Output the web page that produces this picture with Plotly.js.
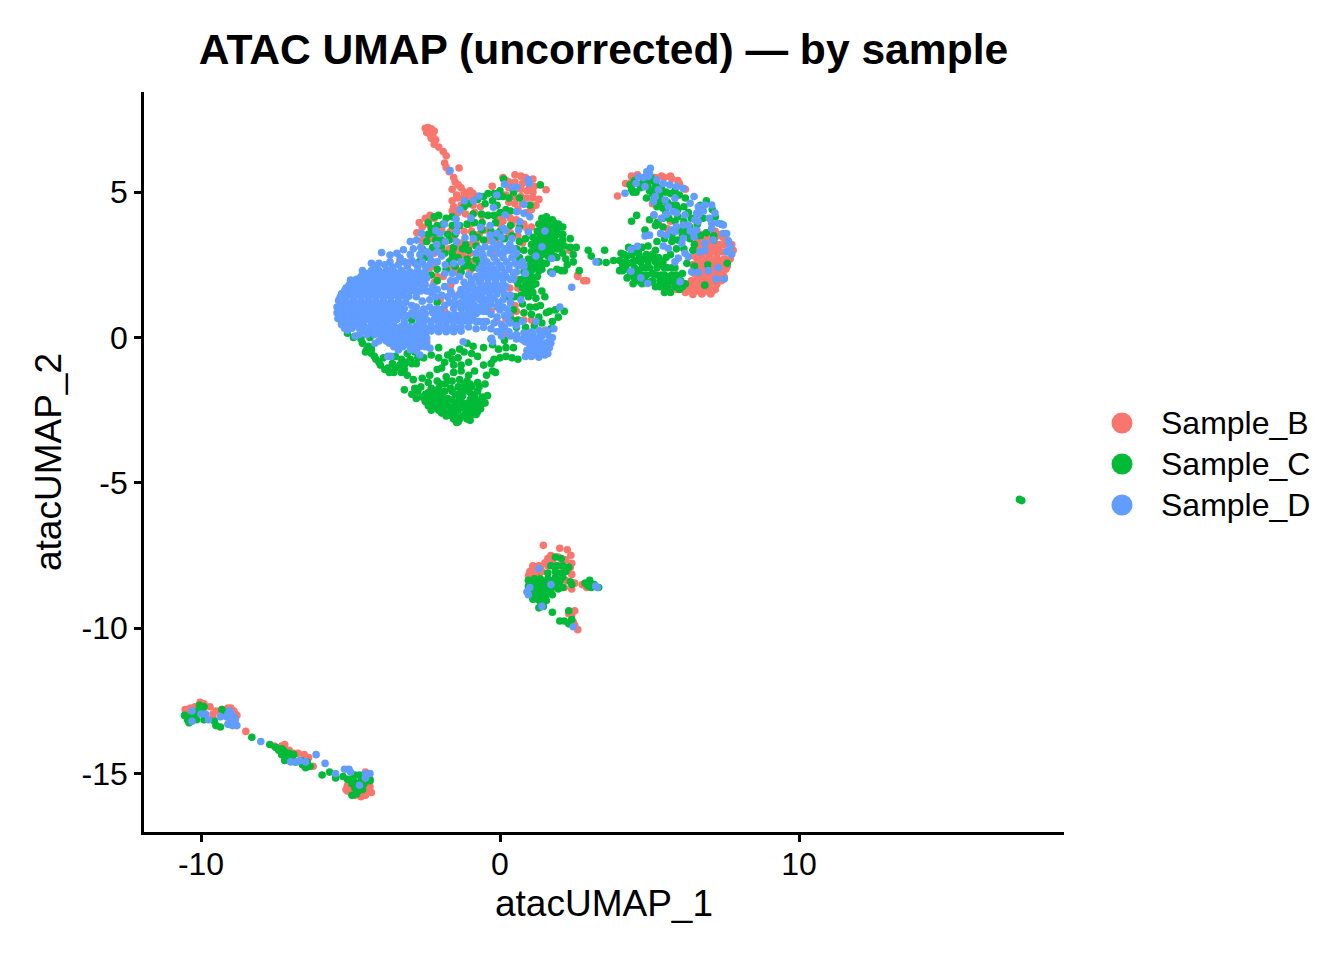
<!DOCTYPE html>
<html><head><meta charset="utf-8">
<script src="https://cdn.plot.ly/plotly-3.0.1.min.js"></script>
<style>html,body{margin:0;padding:0;background:#fff}</style></head>
<body><div id="chart" style="width:1344px;height:960px"></div>
<script>
const sampleNames = ["Sample_B","Sample_C","Sample_D"];
const sampleColors = ["#F8766D","#00BA38","#619CFF"];
const xTicks = [-10,0,10];
const yTicks = [-15,-10,-5,0,5];

const sampleB = [
[-2.5,7.2],[-2.4,7.22],[-2.3,7.18],[-2.2,7.1],[-2.45,7.05],[-2.35,7.0],[-2.25,6.95],[-2.3,6.85],[-2.15,6.8],[-2.2,6.65],[-2.05,6.55],[-1.9,6.4],[-1.8,6.25],[-1.85,6.0],[-1.8,5.85],[-1.7,5.7],[-1.37,5.83],[-1.55,5.5],[-1.5,5.35],[-1.4,5.25],[-1.6,5.1],[-1.3,5.15],[-1.2,5.0],[-1.1,4.95],[-1.0,4.85],[-1.45,4.9],[-1.0,5.05],[-.9,4.95],
[-1.6,4.7],[-1.4,4.8],[-1.2,4.85],[-.8,4.75],[-1.55,4.5],[-1.3,4.55],[-1.1,4.6],[-.9,4.55],[-.65,4.5],[-1.6,4.35],[-1.4,4.3],[-1.15,4.25],[-.85,4.3],[-.6,4.2],[-.26,5.2],[.1,5.5],
[.5,5.6],[.7,5.55],[.85,5.5],[1.1,5.45],[.3,5.35],[.5,5.35],[.75,5.3],[1.0,5.2],[1.15,5.2],[.2,5.4],[.3,5.15],[.5,5.1],[.7,5.1],[.9,5.05],[1.1,5.0],[.2,4.9],[.45,4.85],[.7,4.85],[.9,4.8],[1.1,4.8],[1.3,4.75],[.3,4.65],[.5,4.6],[.75,4.6],[1.0,4.55],[1.2,4.55],[.6,4.4],[.9,4.3],[1.05,4.4],[1.54,5.08],
[-2.78,3.6],[-2.5,4.1],[-2.34,4.2],[-2.6,3.8],[-2.4,3.9],[-2.7,3.95],[-2.2,4.1],[-1.0,3.9],[-.5,3.7],[0,3.9],[.4,3.9],[.6,3.5],[-3.35,2.63],[-3.05,2.58],[-2.1,2.1],[-2.2,1.9],[-2.35,2.4],[-1.45,2.25],[-1.3,3.25],[-.58,1.8],[.33,1.7],[-.9,1.0],[-.58,1.05],[.2,.65],[.2,.15],[1.05,.6],[1.5,.25],[-2.45,-.15],[2.33,3.0],[2.6,2.15],[.75,3.25],[.6,3.0],[-.5,2.2],[-1.0,2.9],[-2.0,1.3],[-1.85,.9],[-.3,.9],[.5,1.1],[-.1,2.9],[-1.55,3.4],[-.8,3.25],
[2.6,2.1],[2.8,1.95],[2.9,1.95],[3.93,4.87],
[4.2,5.3],[4.4,5.55],[5.2,5.5],[5.5,5.5],[5.75,5.45],[6.0,5.3],[5.1,4.6],[5.15,4.2],[5.3,3.9],[5.6,3.75],[5.7,4.0],
[6.5,3.6],[6.7,3.55],[7.0,3.6],[7.2,3.65],[7.4,3.55],[7.6,3.35],[7.75,3.2],[7.8,3.0],[6.6,3.3],[6.85,3.35],[7.1,3.3],[7.35,3.2],[6.55,3.1],[6.8,3.1],[7.05,3.05],[7.3,3.0],[7.55,2.95],[6.5,2.8],[6.75,2.8],[7.0,2.8],[7.25,2.75],[7.5,2.7],[7.7,2.7],[6.45,2.5],[6.7,2.5],[6.95,2.55],[7.2,2.5],[7.45,2.5],[7.6,2.45],[6.5,2.2],[6.75,2.2],[7.0,2.2],[7.25,2.25],[7.45,2.2],[6.4,1.95],[6.65,1.95],[6.9,1.95],[7.15,1.95],[7.4,1.95],[6.3,1.75],[6.55,1.7],[6.75,1.7],[7.0,1.7],[7.2,1.65],[6.2,1.55],[6.45,1.48],[6.75,1.5],[7.05,1.5],[5.7,1.75],[5.9,1.65],
[1.45,-7.15],[1.95,-7.55],[2.2,-7.65],[2.35,-7.9],[1.0,-8.05],[1.1,-7.85],[1.3,-7.85],[1.5,-7.75],[1.75,-7.7],[2.0,-7.85],[2.4,-8.15],[.95,-8.2],[1.2,-8.1],[1.4,-8.05],[1.3,-8.25],[2.2,-8.35],[2.5,-8.45],[2.75,-8.5],[2.9,-8.6],[2.15,-8.6],[2.4,-8.65],[2.5,-9.4],[2.4,-9.55],[2.45,-9.8],[2.6,-10.05],[2.5,-9.9],[2.3,-9.5],
[-10.53,-12.8],[-10.45,-12.95],[-10.03,-12.55],[-9.9,-12.6],[-10.2,-12.7],[-9.7,-12.7],[-9.5,-12.85],[-9.3,-12.8],[-9.1,-12.75],[-8.9,-12.85],[-8.8,-13.0],[-9.6,-13.1],[-8.5,-13.55],
[-7.55,-14.05],[-7.3,-14.05],[-7.05,-14.2],[-6.9,-14.3],[-6.55,-14.35],[-6.45,-14.6],[-6.25,-14.75],[-7.0,-14.5],
[-5.15,-15.55],[-5.1,-15.4],[-5.0,-15.65],[-4.85,-15.75],[-4.65,-15.8],[-4.45,-15.65],[-4.35,-15.45],[-4.3,-15.65],[-4.55,-15.5],[-4.8,-15.45],[-4.6,-15.25],[-4.35,-15.25],[-4.65,-15.1],[-4.5,-14.95],[-5.0,-15.2]
];
const sampleB_dense = [
[6.95,3.45],[7.2,3.45],[7.45,3.45],[6.7,3.2],[6.95,3.2],[7.2,3.2],[7.5,3.2],[6.65,2.95],[6.9,2.95],[7.15,2.95],[7.4,2.95],[7.65,2.95],[6.6,2.65],[6.85,2.65],[7.1,2.65],[7.35,2.65],[7.6,2.65],[6.6,2.35],[6.85,2.35],[7.1,2.35],[7.35,2.35],[7.55,2.35],[6.6,2.08],[6.85,2.08],[7.1,2.08],[7.35,2.08],[7.5,2.08],[6.5,1.82],[6.75,1.82],[7.0,1.82],[7.25,1.82],[6.35,1.6],[6.6,1.6],[6.9,1.6],[7.1,1.6],
[4.4,5.35],[4.6,5.6],[5.4,5.55],[5.7,5.55],[5.95,5.4],[6.2,5.1],
[-10.45,-12.8],[-10.35,-12.75],[-10.0,-12.65],[-9.6,-12.95],[-9.0,-12.75],[-8.85,-12.95],[-7.2,-14.0],[-6.75,-14.3],[-6.4,-14.45],[-6.6,-14.7],[-5.1,-15.6],[-4.95,-15.5],[-4.7,-15.7],[-4.5,-15.75],[-4.4,-15.55],[-4.7,-15.5],
[1.1,-7.95],[1.2,-8.0],[1.35,-7.9],[1.6,-7.6],[1.7,-7.5],[1.0,-8.15],[2.0,-7.25],[2.25,-7.3],[2.37,-7.49],[2.4,-7.77],[1.6,-7.85],
[-2.55,3.5],[-2.3,3.4],[-2.1,3.45],[-1.95,3.7],[-1.65,3.65],[-1.2,3.65],[-.95,3.65],[-.7,3.55],[-.4,3.35],[-.15,3.35],[.3,3.5],[-2.6,3.3],[-2.2,2.9],[-1.95,3.05],[-1.7,3.05],[-1.4,3.1],[-1.0,3.2],[-.65,2.9],[-1.45,2.95],[-1.25,2.85],[-.95,2.6],[-1.65,2.35],[-1.35,2.3],[-1.0,2.3],[-1.9,2.1],[-1.65,1.8],[-2.2,2.5],[.35,4.1],[.55,4.05],[.8,3.9],[.9,3.75],[.35,3.6],[1.05,3.8],[-.05,4.1],[.1,4.0],[-2.0,.55],[-.9,1.4],[-1.6,1.5],[.55,.9],[.8,.6],[-.1,.55],[.35,.75],[.6,1.7],[.55,2.0],[.75,2.45],[.8,.0]
];

const sampleC = [
[17.37,-5.57],[17.45,-5.61],
[.12,5.45],[.45,5.0],[1.35,5.25],[.0,5.05],[-.2,4.95],[-.05,4.85],[.1,4.85],[.3,4.8],[.65,4.8],[-.4,4.95],[-.55,4.85],[-.75,4.75],[-1.2,4.5],[-1.05,4.6],[-.5,4.6],[-.25,4.7],[-.1,4.55],[-1.6,4.15],[-.9,4.25],[-.62,4.25],[-.4,4.2],[-.2,4.2],[.0,4.3],[1.0,4.55],
[-2.4,3.95],[-2.2,4.15],[-2.05,4.2],[-1.8,4.1],[-2.3,3.75],[-2.1,3.85],[-1.9,3.9],[-2.4,3.55],[-2.2,3.6],[-1.75,3.55],[-1.6,3.85],[-1.35,3.85],[-1.1,3.9],[-.85,3.95],[-.6,3.95],[-.3,3.65],[.0,3.65],[-.15,3.95],[.35,3.85],[.65,3.8],
[-2.45,3.3],[-2.25,3.1],[-1.7,3.35],[-1.55,3.1],[-1.25,3.05],[-1.05,3.0],[-.8,3.15],[-.55,3.35],[-1.4,2.75],[-1.1,2.7],[-1.6,2.9],[-.8,2.7],[-1.5,2.45],[-1.2,2.45],[-.9,2.4],[-.7,2.55],[-1.7,2.6],[-2.1,2.35],[-2.3,2.15],[-2.1,1.95],[-2.7,2.6],[-3.3,2.2],[-2.9,2.1],
[1.4,4.1],[1.55,4.15],[1.75,4.05],[1.95,3.9],[2.1,3.8],[1.3,3.9],[1.5,3.95],[1.7,3.85],[1.9,3.7],[2.1,3.55],[2.35,3.4],[1.25,3.65],[1.45,3.7],[1.65,3.6],[1.85,3.5],[2.1,3.35],[2.35,3.1],[2.55,3.1],[1.1,3.45],[1.3,3.4],[1.5,3.4],[1.7,3.35],[1.95,3.25],[2.15,3.15],[.85,3.4],[1.05,3.2],[1.25,3.15],[1.45,3.15],[1.7,3.1],[1.9,3.05],[2.1,2.9],[2.45,2.85],[.8,3.0],[1.05,2.95],[1.25,2.9],[1.5,2.9],[1.7,2.85],[1.9,2.75],[2.2,2.7],[2.45,2.6],[.95,2.7],[1.15,2.65],[1.35,2.6],[1.55,2.55],[2.25,2.5],[.95,2.45],[1.15,2.4],[1.4,2.35],[2.05,2.3],[.8,2.25],[1.0,2.2],[1.25,2.1],[1.7,2.25],[1.9,2.35],[2.15,2.3],[2.65,2.3],[.7,2.0],[.95,1.95],[1.2,1.85],[1.5,1.4],[1.4,1.6],[.75,1.7],[1.0,1.65],[.5,1.4],[.7,1.45],[.95,1.4],[1.2,1.35],[.75,1.15],[1.0,1.05],[1.2,1.05],[1.65,.9],[1.85,.95],[.8,.85],[1.05,.8],[1.3,.7],[1.55,.85],[1.75,.55],[1.95,.7],[2.15,.9],[1.4,.5],[1.15,.4],[1.7,.3],[1.35,1.1],[3.5,3.0],[2.95,3.0],[3.05,2.8],[3.3,2.6],
[-4.6,-.2],[-4.4,-.3],[-4.5,-.5],[-4.3,-.55],[-4.15,-.75],[-4.0,-.95],[-3.85,-1.1],[-3.7,-1.2],[-3.5,-1.05],[-3.3,-.75],[-3.15,-.85],[-3.35,-.95],[-3.0,-.75],[-2.8,-.9],[-3.1,-1.3],[-3.2,-1.1],[-3.3,-1.2],[-2.9,-1.45],[-2.6,-1.4],[-2.35,-1.3],[-2.1,-1.1],[-2.3,-.6],[-2.05,-.7],[-1.85,-.85],[-1.6,-.75],[-1.4,-.7],[-1.2,-.5],[-1.6,-.5],[-1.35,-.4],[-1.1,-.2],[-.9,-.3],[-.75,-.65],[-.55,-.35],[-.25,-.25],[-2.05,-.35],[-.2,-.75],[.0,-.7],[.2,-.65],[.4,-.7],[.6,-.75],[-.55,-.95],[-.3,-.9],[-.45,-1.3],[-.25,-1.15],[-.05,-.4],[.2,-.35],[.45,-.35],[.15,-.1],[-.15,-1.2],[-3.3,-.3],[-3.1,-.55],[-2.85,-.5],[-2.55,-.7],[-1.8,-1.35],[-1.55,-1.2],[-1.3,-1.15],[-1.05,-1.3],[-.85,-1.15],[-.75,-1.55],[-.5,-1.6],
[-1.85,-1.6],[-1.6,-1.5],[-1.35,-1.45],[-1.1,-1.5],[-.95,-1.7],[-2.3,-1.75],[-2.05,-1.75],[-1.85,-1.85],[-1.65,-1.75],[-1.4,-1.7],[-1.15,-1.75],[-.95,-1.95],[-.75,-1.85],[-.6,-2.05],[-.42,-2.0],[-3.2,-1.8],[-2.95,-1.95],[-2.75,-1.85],[-2.5,-1.95],[-2.25,-2.0],[-2.0,-2.05],[-1.75,-2.1],[-1.5,-1.95],[-1.25,-2.0],[-1.0,-2.15],[-.75,-2.2],[-.5,-2.25],[-2.8,-2.1],[-2.5,-2.2],[-2.25,-2.25],[-2.0,-2.3],[-1.75,-2.35],[-1.5,-2.25],[-1.25,-2.25],[-1.05,-2.4],[-.8,-2.4],[-.65,-2.45],[-2.3,-2.5],[-2.05,-2.5],[-1.85,-2.6],[-1.6,-2.55],[-1.4,-2.5],[-1.15,-2.6],[-.9,-2.6],[-1.8,-2.7],[-1.55,-2.8],[-1.35,-2.8],[-1.1,-2.8],[-1.45,-2.92],[-1.4,-2.9],[-1.0,-2.85],
[-5.1,.15],[-4.9,.0],[-4.65,-.05],[-4.35,-.0],[-3.6,.95],[-2.95,.6],[-2.1,1.2],[-.3,-.05],[-.7,2.0],[-.9,3.55],[.55,.35],[.4,.6],[.2,1.4],[.45,.95],[.6,.6],[.85,.35],
[3.55,2.58],[3.8,2.65],[4.0,2.3],[4.0,2.65],[4.05,2.9],[4.3,3.1],[4.25,2.8],[4.5,2.95],[4.75,3.1],[4.95,3.15],[5.2,3.0],[5.25,3.3],[4.1,2.5],[4.3,2.55],[4.55,2.65],[4.8,2.7],[5.05,2.75],[5.3,2.75],[5.55,2.75],[4.1,2.3],[4.35,2.25],[4.6,2.3],[4.85,2.4],[5.35,2.5],[5.6,2.4],[5.85,2.4],[4.25,2.05],[4.5,2.05],[4.75,2.15],[5.1,2.2],[5.4,2.15],[5.65,2.1],[5.9,2.15],[6.1,2.2],[4.45,1.85],[4.75,1.85],[5.0,1.9],[5.2,1.75],[5.45,1.8],[5.7,1.95],[5.95,1.9],[6.2,1.85],[5.5,1.55],[5.7,1.55],[6.0,1.65],[4.4,4.0],[4.57,4.2],[4.85,3.7],[5.0,4.05],[5.2,3.85],[5.45,3.8],[5.5,3.4],[5.75,3.3],[5.95,3.35],[6.2,3.65],[5.9,3.05],[6.15,3.05],[6.45,3.0],[5.7,2.85],[6.25,2.55],[6.5,2.45],[6.95,2.5],[7.15,3.35],[7.6,2.55],[6.85,1.8],
[4.35,5.25],[4.4,5.1],[4.55,5.0],[4.7,5.15],[4.9,5.35],[5.05,5.5],[5.2,5.3],[5.0,5.05],[5.1,4.95],[5.4,5.15],[4.9,4.8],[5.35,4.9],[5.7,4.95],[6.0,4.9],[6.2,4.8],[5.3,4.6],[5.45,4.45],[5.75,4.55],[5.25,3.95],[5.55,4.3],[5.95,4.4],[6.15,4.5],[6.7,4.55],[6.9,4.7],[7.1,4.4],[7.2,4.15],[7.4,3.9],[5.85,4.0],[6.15,4.0],[6.0,3.7],[6.35,3.8],[6.6,3.9],[6.8,4.1],[6.9,3.6],[7.15,3.5],[6.7,3.5],[6.35,3.4],[6.5,3.2],
[-10.55,-13.0],[-10.45,-13.15],[-10.35,-13.1],[-10.4,-13.25],[-10.2,-13.05],[-10.15,-13.15],[-10.05,-12.65],[-9.9,-12.7],[-9.95,-12.8],[-10.1,-12.85],[-10.25,-12.95],[-9.9,-13.15],[-9.3,-12.8],[-9.2,-12.9],[-9.05,-12.95],[-9.55,-13.2],[-9.5,-13.35],[-9.35,-13.4],[-9.05,-13.3],[-8.9,-13.1],[-8.3,-13.75],
[-7.7,-14.0],[-7.5,-14.1],[-7.4,-14.2],[-7.25,-14.2],[-7.05,-14.3],[-7.3,-14.35],[-7.15,-14.45],[-7.0,-14.5],[-6.9,-14.35],[-7.2,-14.55],[-6.85,-14.6],[-6.65,-14.55],[-6.45,-14.6],[-6.35,-14.75],[-6.5,-14.8],[-5.95,-15.05],[-5.7,-14.95],[-5.5,-15.15],
[-5.25,-15.1],[-5.1,-15.2],[-4.95,-15.2],[-4.85,-15.05],[-4.7,-15.05],[-4.95,-15.35],[-4.8,-15.35],[-4.65,-15.25],[-4.55,-15.1],[-4.35,-15.25],[-4.85,-15.5],[-4.75,-15.6],[-4.6,-15.55],[-4.35,-15.2],[-4.95,-15.75],[-4.8,-15.7],
[1.85,-7.55],[2.05,-7.6],[1.7,-7.85],[1.9,-7.85],[2.1,-7.85],[2.3,-7.9],[1.6,-8.1],[1.85,-8.05],[2.05,-8.1],[2.2,-8.05],[.95,-8.35],[1.15,-8.3],[1.35,-8.3],[1.6,-8.3],[1.85,-8.25],[2.1,-8.25],[2.4,-8.5],[.95,-8.55],[1.15,-8.5],[1.35,-8.5],[1.55,-8.5],[1.8,-8.45],[2.0,-8.4],[2.35,-8.4],[1.05,-8.7],[1.25,-8.7],[1.5,-8.7],[1.7,-8.7],[1.95,-8.65],[2.1,-8.6],[1.15,-8.9],[1.35,-8.9],[1.55,-8.85],[1.75,-8.85],[1.35,-9.1],[1.55,-9.05],[1.3,-9.3],[1.45,-9.25],[1.1,-9.0],[1.75,-9.45],[2.3,-9.4],[2.0,-9.75],[2.15,-9.75],[2.3,-9.85],[2.4,-9.7],[3.0,-8.35],[2.95,-8.55],[2.85,-8.45],[3.15,-8.5],[3.3,-8.6],[3.05,-8.6]
];
const sampleC_dense = [
[-2.4,-1.9],[-2.15,-1.9],[-1.95,-1.95],[-1.6,-1.85],[-1.3,-1.85],[-1.05,-1.85],[-.85,-2.05],[-2.6,-2.05],[-2.35,-2.1],[-2.1,-2.15],[-1.85,-2.2],[-1.6,-2.15],[-1.35,-2.12],[-1.1,-2.28],[-.9,-2.3],[-.62,-2.3],[-2.4,-2.35],[-2.15,-2.4],[-1.9,-2.45],[-1.65,-2.42],[-1.45,-2.4],[-1.25,-2.4],[-.95,-2.5],[-.75,-2.55],[-1.95,-2.6],[-1.7,-2.62],[-1.5,-2.65],[-1.25,-2.7],[-1.0,-2.7],[-.8,-2.65],[-1.6,-2.7],[-1.2,-1.6],[-1.0,-1.6],[-.7,-1.7],[-2.0,-1.6],[-1.75,-1.5],
[-4.45,-.4],[-4.2,-.65],[-4.05,-.85],[-3.75,-1.05],[-3.55,-1.2],[-3.2,-.95],[-2.95,-.9],
[1.6,3.95],[1.8,3.95],[1.4,3.8],[1.6,3.8],[1.8,3.8],[2.0,3.8],[1.35,3.55],[1.55,3.55],[1.75,3.55],[1.95,3.55],[1.2,3.3],[1.4,3.3],[1.6,3.3],[1.85,3.3],[2.05,3.3],[1.15,3.05],[1.35,3.05],[1.55,3.05],[1.8,3.05],[2.0,3.05],[1.15,2.8],[1.35,2.8],[1.6,2.8],[1.8,2.8],[1.05,2.55],[1.25,2.55],[1.45,2.55],[1.05,2.3],[1.3,2.3],[.85,2.05],[1.1,2.05],[.85,1.8],[1.1,1.8],[.85,1.55],[1.1,1.55],
[4.45,3.05],[4.65,3.05],[4.15,2.85],[4.4,2.85],[4.65,2.85],[4.9,2.85],[5.1,2.85],[4.2,2.6],[4.45,2.6],[4.7,2.6],[4.95,2.6],[5.2,2.6],[5.45,2.6],[4.2,2.4],[4.5,2.4],[4.75,2.4],[5.0,2.4],[5.25,2.4],[5.5,2.4],[5.75,2.4],[4.4,2.15],[4.6,2.15],[4.9,2.15],[5.25,2.15],[5.5,2.15],[5.75,2.15],[4.6,1.95],[4.85,1.95],[5.1,1.95],[5.35,1.95],[5.55,1.95],[5.8,1.95],[6.05,1.95],[5.35,1.75],[5.6,1.75],[5.85,1.75],[6.1,1.75],
[4.5,5.4],[4.45,5.0],[4.75,5.3],[4.95,5.2],[5.1,5.4],[5.2,5.15],[5.55,5.0],[5.85,5.05],[5.15,4.75],[5.25,4.5],[5.4,4.7],[5.6,4.65],[5.9,4.55],[5.45,4.1],[5.65,4.1],[5.95,4.15],[6.3,4.3],[6.4,4.1],[6.1,3.55],[6.3,3.6],[5.75,3.5],
[1.2,-8.4],[1.4,-8.4],[1.6,-8.4],[1.8,-8.35],[1.25,-8.6],[1.45,-8.6],[1.65,-8.6],[1.85,-8.55],[1.25,-8.8],[1.45,-8.8],[1.65,-8.8],[1.25,-9.0],[1.45,-9.0],
[-10.3,-13.0],[-10.0,-12.75],[-7.2,-14.25],[-7.0,-14.4],[-7.3,-14.15],[-6.6,-14.7],[-4.7,-15.4],[-4.55,-15.35],[-4.9,-15.25],
[-2.15,3.35],[-1.95,3.35],[-1.5,3.55],[-1.15,3.2],[-.75,3.45],[-1.85,2.9],[-1.95,3.15],[-1.3,2.25],[-1.05,2.5],[-1.8,2.35],[-.6,3.7],[-.15,3.45],[.15,3.4],[.4,3.5],[.65,3.3],[.55,3.05],[.65,2.75],[.7,2.55],[.6,1.85],[-1.6,2.7],[-2.5,2.75],[-2.6,3.05],[.2,4.4],[.35,4.35],[-.1,4.95],
[-2.4,-1.55],[-2.65,-1.7],[-2.85,-1.75],[-2.1,-1.5],[-1.3,-.95],[-1.55,-.95],[-1.05,-.85],[-.95,-.55],[-1.75,-.6],[-1.95,-1.05],[-2.75,-.7],[-3.5,-.65],[-3.6,-.9],[-3.9,-.7],[-4.3,-.4]
];

const sampleD = [
[-1.67,5.74],[-1.19,4.7],[-.89,4.7],[-.7,4.87],[-1.34,4.39],[-1.47,4.08],[-.97,4.1],[-1.86,3.9],[-1.42,3.87],[-.65,3.79],[-.33,3.85],[-.22,4.48],[-.11,4.9],[.15,5.27],[.41,5.17],[.56,5.17],[.97,5.3],[.95,5.43],[.17,4.21],[.8,4.58],[.56,4.33],[.8,4.27],[1.0,4.15],[.67,3.98],[.11,3.76],[.62,3.7],[.95,3.63],[1.5,3.66],[1.4,3.12],[1.73,2.72],[1.2,2.8],[-2.15,3.68],[-2.0,3.58],[-1.45,3.64],[-2.62,3.58],[-2.79,3.35],[-3.96,2.92],[-3.68,2.84],[-3.23,3.02],[-3.0,3.3],[-2.11,3.2],[-1.83,3.29],[-1.45,3.29],[-1.17,3.43],[-.89,3.4],[-.33,3.52],[-.11,3.58],[.17,3.69],[-.5,3.12],[0,3.2],[.33,3.2],[-.33,2.9],[0,2.9],[.3,3.0],[-.44,2.6],[-.11,2.6],[.22,2.6],[.5,2.55],[-1.83,2.5],[-2.34,2.85],[-2.68,2.85],[-3,2.85],[-3.34,2.74],[-3.68,2.6],[-4.3,2.55],[-4.05,2.55],[2.4,1.73],[3.21,2.6],[1.75,2.2],[2.0,1.05],[1.2,.55],
[-3.4,2.5],[-3.1,2.45],[-2.85,2.55],[-2.6,2.6],[-2.35,2.5],[-1.55,2.55],[-1.3,2.6],[-.7,2.35],[-.45,2.35],[-.2,2.35],[.05,2.4],[.3,2.35],[.55,2.25],[.85,2.2],
[-4.6,2.3],[-4.3,2.3],[-4.05,2.3],[-3.8,2.32],[-3.55,2.28],[-3.3,2.3],[-3.0,2.25],[-2.75,2.3],[-2.5,2.25],[-2.1,2.6],[-1.35,2.1],[-1.05,2.15],[-.8,2.1],[-.55,2.12],[-.3,2.1],[-.05,2.12],[.2,2.1],[.45,2.0],
[-4.65,2.1],[-4.4,2.08],[-4.15,2.1],[-3.9,2.08],[-3.65,2.1],[-3.4,2.07],[-3.15,2.05],[-2.9,2.08],[-2.65,2.05],[-2.45,2.05],
[-5.0,1.98],[-4.75,1.9],[-4.5,1.88],[-4.25,1.9],[-4.0,1.88],[-3.75,1.87],[-3.5,1.9],[-3.25,1.85],[-3.0,1.85],[-2.75,1.85],[-2.5,1.82],[-1.5,1.95],[-1.2,1.9],[-.95,1.88],[-.7,1.9],[-.4,1.85],[-.15,1.88],[.1,1.85],[.35,1.45],[.7,1.3],
[-5.15,1.7],[-4.9,1.7],[-4.65,1.68],[-4.4,1.7],[-4.15,1.68],[-3.9,1.67],[-3.65,1.7],[-3.4,1.65],[-3.15,1.66],[-2.9,1.62],[-2.65,1.6],[-1.65,1.6],[-1.3,1.65],[-1.05,1.66],[-.8,1.62],[-.45,1.6],[-.2,1.65],[.05,1.65],
[-5.3,1.5],[-5.05,1.48],[-4.8,1.48],[-4.55,1.5],[-4.3,1.47],[-4.05,1.48],[-3.8,1.46],[-3.55,1.47],[-3.3,1.45],[-3.05,1.42],[-2.8,1.4],[-1.5,1.4],[-1.25,1.42],[-1.0,1.4],[-.75,1.4],[-.5,1.3],[-.2,1.35],[-.05,1.2],[.1,1.3],[.35,1.2],
[-5.4,1.27],[-5.15,1.26],[-4.9,1.28],[-4.65,1.27],[-4.4,1.25],[-4.15,1.26],[-3.9,1.25],[-3.65,1.23],[-3.4,1.24],[-3.15,1.22],[-2.6,1.25],[-2.35,1.3],[-1.7,1.2],[-1.3,1.2],[-1.05,1.18],[-.55,1.1],[-.3,1.15],[.0,.95],[.25,.98],[.15,.75],[.3,.8],[.35,.5],
[-5.45,1.05],[-5.2,1.05],[-4.95,1.04],[-4.7,1.05],[-4.45,1.02],[-4.2,1.04],[-3.95,1.02],[-3.7,1.02],[-3.45,1.03],[-3.2,1.0],[-2.35,1.05],[-2.1,1.0],[-1.55,1.0],[-1.3,1.0],[-.55,.9],[-.3,.8],[-.1,.7],
[-5.45,.85],[-5.2,.84],[-4.95,.85],[-4.7,.83],[-4.45,.82],[-4.2,.84],[-3.95,.82],[-3.7,.8],[-3.45,.83],[-3.2,.78],[-2.95,.85],[-2.75,.85],[-2.5,.82],[-2.25,.85],[-2.0,.85],[-1.75,.8],[-1.5,.78],[-1.25,.8],[-1.0,.78],[-.8,.82],[.15,.35],[.3,.2],
[-5.42,.65],[-5.2,.63],[-4.95,.64],[-4.7,.62],[-4.45,.62],[-4.2,.62],[-3.95,.6],[-3.7,.58],[-3.45,.62],[-3.2,.55],[-2.7,.6],[-2.45,.6],[-2.2,.62],[-1.95,.62],[-1.7,.6],[-1.45,.58],[-1.2,.58],[-.95,.6],[-.7,.55],[-.45,.55],[-.2,.5],[.05,.45],
[-5.3,.45],[-5.05,.44],[-4.8,.43],[-4.55,.42],[-4.3,.42],[-4.05,.4],[-3.8,.38],[-3.55,.4],[-3.3,.38],[-3.05,.38],[-2.8,.4],[-2.55,.38],[-2.3,.38],[-2.05,.4],[-1.8,.38],[-1.55,.38],[-1.3,.38],[-1.05,.36],[-.8,.3],[-.55,.35],[-.3,.3],[-.1,.2],
[-5.1,.25],[-4.85,.05],[-4.6,.22],[-4.35,.22],[-4.1,.2],[-3.85,.18],[-3.6,.2],[-3.35,.18],[-3.1,.18],[-2.85,.2],[-2.6,.2],[-2.3,.22],[-2.05,.2],[-1.8,.2],[-1.55,.2],[-1.3,.22],[-.28,-.03],[.05,.25],
[-4.18,-.2],[-3.9,-.02],[-3.65,-.03],[-3.4,-.05],[-3.15,-.02],[-2.9,-.05],[-2.65,-.03],[-2.45,-.02],[-3.7,-.2],[-3.4,-.2],[-3.15,-.22],[-2.9,-.25],[-2.65,-.28],[-2.45,-.25],[-3.4,-.43],[-3.0,-.42],[-2.68,-.6],[-2.34,-.37],[-2.8,-.45],[-1.23,-.15],[-3.65,-.65],[-3.75,-.65],
[-.7,1.65],[-.55,2.6],[-.8,2.9],[-.1,3.1],[.15,2.95],[.45,2.8],[-.25,2.3],
[.35,.05],[.55,-.05],[.75,-.08],[.95,-.05],[1.2,-.05],[1.4,.05],[1.55,.25],[1.75,.0],[.8,.15],[1.05,.2],[1.3,.25],[1.0,-.25],[1.25,-.25],[1.5,-.2],[1.7,-.2],[.9,-.45],[1.1,-.5],[1.35,-.45],[1.55,-.4],[.85,-.65],[1.05,-.65],[1.3,-.68],[1.5,-.6],[1.8,.3],
[.55,.4],[.75,.55],[1.0,.05],[.3,.55],[.05,.05],[-.25,-.15],
[5.03,5.82],[4.91,5.7],[4.63,5.53],[4.55,5.3],[4.18,4.96],[5.24,5.42],[5.46,5.3],[5.68,5.25],[5.91,5.19],[6.13,5.13],[4.85,5.19],[5.3,5.08],[5.19,4.85],[5.52,4.73],[5.85,4.79],[6.49,4.85],[5.13,4.67],[5.63,4.5],[5.8,4.33],[6.36,4.62],[6.63,4.5],[6.85,4.56],[7.08,4.56],[7.19,4.28],[6.58,4.28],[6.52,4.05],[6.63,3.99],[6.19,4.22],[5.91,4.28],[5.57,4.24],[5.15,4.22],[5.4,4.1],[7.08,3.93],[7.3,3.93],[7.47,3.87],[7.08,3.76],[6.3,3.87],[6.13,3.87],[5.9,3.82],[5.74,3.7],[6.58,3.7],[6.36,3.66],[5.85,3.64],[5.0,3.52],[4.85,3.49],[5.37,3.58],[5.57,3.52],[6.49,3.47],[6.13,3.41],[6.85,3.24],[7.13,3.35],[7.47,3.58],[7.58,3.58],[7.64,3.32],[7.7,3.12],[7.58,2.95],[7.75,2.86],[5.46,3.15],[5.63,3.07],[6.08,3.24],[6.19,2.9],[6.85,3.0],[6.69,2.95],[6.3,2.78],[5.96,2.73],[5.85,2.6],[7.3,2.4],[6.97,2.3],[6.41,2.26],[6.63,2.24],[4.38,3.03],[4.6,3.14],[4.38,2.28],[4.71,2.05],[4.94,1.86],[6.02,1.92],[7.23,2.01],[7.5,2.01],[5.0,5.65],[4.8,5.5],[4.97,5.55],[6.65,4.25],[7.0,4.1],[6.8,4.35],
[-10.3,-12.85],[-10.0,-12.95],[-9.85,-12.95],[-10.3,-13.2],[-9.75,-13.15],[-9.35,-13.05],[-9.15,-13.05],[-9.05,-12.85],[-8.95,-13.0],[-9.1,-12.95],[-9.0,-13.15],[-8.85,-13.15],[-9.1,-13.3],[-8.95,-13.35],[-8.8,-13.35],[-8.0,-13.9],
[-7.0,-14.6],[-6.8,-14.6],[-6.7,-14.55],[-6.5,-14.6],[-6.15,-14.35],[-5.85,-14.65],[-5.5,-15.0],[-5.2,-14.85],[-5.0,-14.95],[-5.05,-14.85],[-4.7,-15.4],[-4.5,-15.0],[-4.35,-15.0],[-4.5,-15.15],
[1.3,-7.95],[1.7,-8.5],[.9,-8.75],[.95,-8.85],[1.0,-8.6],[1.4,-9.25],[2.45,-9.95],[3.2,-8.55],[3.25,-8.6]
];
const sampleD_dense = [
[-4.45,2.2],[-4.2,2.2],[-3.95,2.2],[-3.7,2.2],[-3.45,2.2],[-3.2,2.2],[-2.85,2.2],[-2.6,2.2],
[-4.8,2.0],[-4.55,2.0],[-4.3,2.0],[-4.05,2.0],[-3.8,2.0],[-3.55,2.0],[-3.3,2.0],[-3.05,2.0],[-2.8,2.0],[-2.55,2.0],
[-5.05,1.8],[-4.85,1.8],[-4.6,1.8],[-4.35,1.8],[-4.1,1.8],[-3.85,1.8],[-3.6,1.8],[-3.35,1.8],[-3.1,1.8],[-2.85,1.8],[-2.6,1.8],
[-5.2,1.6],[-5.0,1.6],[-4.75,1.6],[-4.5,1.6],[-4.25,1.6],[-4.0,1.6],[-3.75,1.6],[-3.5,1.6],[-3.25,1.6],[-3.0,1.6],[-2.75,1.6],
[-5.35,1.38],[-5.15,1.38],[-4.9,1.38],[-4.65,1.38],[-4.4,1.38],[-4.15,1.38],[-3.9,1.38],[-3.65,1.38],[-3.4,1.38],[-3.15,1.38],
[-5.3,1.15],[-5.05,1.15],[-4.8,1.15],[-4.55,1.15],[-4.3,1.15],[-4.05,1.15],[-3.8,1.15],[-3.55,1.15],[-3.3,1.15],
[-5.35,.95],[-5.1,.95],[-4.85,.95],[-4.6,.95],[-4.35,.95],[-4.1,.95],[-3.85,.95],[-3.6,.95],[-3.35,.95],[-2.25,.95],[-2.0,.95],
[-5.35,.75],[-5.1,.75],[-4.85,.75],[-4.6,.75],[-4.35,.75],[-4.1,.75],[-3.85,.75],[-3.6,.75],[-3.35,.75],[-3.1,.75],[-2.85,.75],[-2.6,.75],[-2.1,.75],[-1.85,.75],[-1.6,.75],[-1.35,.75],[-1.1,.75],[-.9,.75],
[-5.3,.55],[-5.1,.55],[-4.85,.55],[-4.6,.55],[-4.3,.55],[-4.1,.55],[-3.85,.55],[-3.55,.55],[-2.6,.55],[-2.3,.55],[-2.05,.55],[-1.8,.55],[-1.55,.55],[-1.3,.55],[-1.05,.55],[-.8,.55],[-.55,.55],
[-5.2,.32],[-4.95,.32],[-4.7,.32],[-4.45,.32],[-4.2,.32],[-3.95,.32],[-3.7,.32],[-3.45,.32],[-3.2,.32],[-2.95,.32],[-2.7,.32],[-2.45,.32],[-2.15,.32],[-1.9,.32],[-1.65,.32],[-1.4,.32],
[-4.7,.1],[-4.45,.1],[-4.2,.1],[-4.0,.1],[-3.75,.1],[-3.5,.1],[-3.25,.1],[-3,.1],[-2.75,.1],[-2.5,.1],
[-4.05,-.12],[-3.8,-.12],[-3.55,-.12],[-3.25,-.12],[-3,-.12],[-2.75,-.12],[-2.55,-.12],
[-3.55,-.32],[-3.25,-.32],[-2.95,-.32],[-2.7,-.32],[-2.5,-.32],
[-.7,3.05],[-.3,3.05],[-.15,3.05],[.15,3.05],[.45,3.05],[-.55,2.75],[-.2,2.75],[.1,2.75],[.4,2.75],[-.6,2.48],[-.3,2.48],[0,2.48],[.3,2.48],[.6,2.48],[-.6,2.22],[-.35,2.22],[-.1,2.22],[.15,2.22],[.45,2.22],[-.95,2.0],[-.65,2.0],[-.4,2.0],[-.15,2.0],[.1,2.0],[.35,2.0],[-1.15,1.75],[-.9,1.75],[-.55,1.75],[-.3,1.75],[-.05,1.75],[.2,1.75],[-1.35,1.5],[-1.1,1.5],[-.85,1.5],[-.6,1.5],[-.35,1.5],[-.1,1.5],[.15,1.5],[-1.15,1.28],[-.9,1.28],[-.65,1.28],[-.35,1.28],[-1.15,1.05],[-.85,1.05],[-.65,1.05],[-.4,1.05],[-.1,1.05],[.1,1.05],[-.7,.9],[-.45,.9],
[.55,.1],[.85,.1],[1.1,.1],[1.35,.1],[1.6,.1],[.85,-.15],[1.1,-.15],[1.35,-.15],[1.6,-.15],[1.0,-.35],[1.2,-.35],[1.45,-.35],[1.65,-.35],[.95,-.55],[1.2,-.55],[1.4,-.55],[1.6,-.55],
[-4.15,2.45],[-3.85,2.5],[-3.6,2.42],[-3.2,2.6],[-2.95,2.65],[-2.75,2.45],[-2.5,2.45],[-3.45,2.9],[-2.9,3.05],[-2.65,3.1],[-2.45,2.95],[-2.1,2.95],[-1.95,2.8],[-2.3,2.65],[-1.6,2.2],[-1.85,2.2],[-1.65,1.95],[-1.85,1.75],[-2.1,1.65],[-2.3,1.55],[-2.45,1.6],[-1.95,1.45],[-1.75,1.4],[-2.25,1.75],[-1.4,1.15],[-2.15,1.4],[-1.55,1.2],[-1.85,1.1],[-2.55,.98],[-2.8,1.05],[-2.95,1.1],[-1.05,.95],[-.85,1.1],
[.4,3.4],[-.25,3.3],[.05,3.45],[-.6,2.9],[.55,2.9],[.75,2.6],[.8,2.45]
];

function col(points, i){ return points.map(p => p[i]); }
const allSamples = [sampleB.concat(sampleB_dense), sampleC.concat(sampleC_dense), sampleD.concat(sampleD_dense)];

const traces = allSamples.map((pts, k) => ({
  type: "scatter", mode: "markers", name: sampleNames[k],
  x: col(pts,0), y: col(pts,1),
  marker: {color: sampleColors[k], size: 7.6, line:{width:0}}
}));

const legendRowsY = [423,464,505];
const plotL = 144, plotR = 1064, plotT = 92, plotB = 832;
const fx = px => (px-plotL)/(plotR-plotL);
const fy = py => (plotB-py)/(plotB-plotT);

const axisBase = {
  showgrid:false, zeroline:false, showline:true, linecolor:"#000", linewidth:2.6,
  ticks:"outside", ticklen:7, tickwidth:2.6, tickcolor:"#000",
  tickfont:{size:32, color:"#000", family:"Liberation Sans"}
};
const layout = {
  width:1344, height:960, paper_bgcolor:"#fff", plot_bgcolor:"#fff",
  font:{family:"Liberation Sans", color:"#000"},
  margin:{l:plotL, r:1344-plotR, t:plotT, b:960-plotB},
  title:{text:"<b>ATAC UMAP (uncorrected) — by sample</b>", x:603.5/1344, xanchor:"center", y:1-49/960, yanchor:"middle", font:{size:42.6, color:"#000", family:"Liberation Sans"}},
  xaxis:Object.assign({}, axisBase, {range:[(plotL-500)/29.9,(plotR-500)/29.9], tickvals:xTicks, ticktext:xTicks.map(String), ticklabelstandoff:-5, title:{text:"atacUMAP_1", standoff:9, font:{size:37}}}),
  yaxis:Object.assign({}, axisBase, {range:[(337.5-plotB)/29.07,(337.5-plotT)/29.07], tickvals:yTicks, ticktext:yTicks.map(String), title:{text:"atacUMAP_2", standoff:9, font:{size:37}}}),
  showlegend:false,
  shapes: legendRowsY.map((py,k)=>({type:"circle", xref:"paper", yref:"paper", layer:"above",
    x0:fx(1111.5), x1:fx(1132.5), y0:fy(py+10.5), y1:fy(py-10.5),
    fillcolor:sampleColors[k], line:{width:0}})),
  annotations: legendRowsY.map((py,k)=>({xref:"paper", yref:"paper", x:fx(1161), y:fy(py), xanchor:"left", yanchor:"middle",
    text:sampleNames[k], showarrow:false, xshift:-1, borderpad:0, font:{size:32, color:"#000", family:"Liberation Sans"}}))
};
Plotly.newPlot("chart", traces, layout, {displayModeBar:false, responsive:false});
</script></body></html>
